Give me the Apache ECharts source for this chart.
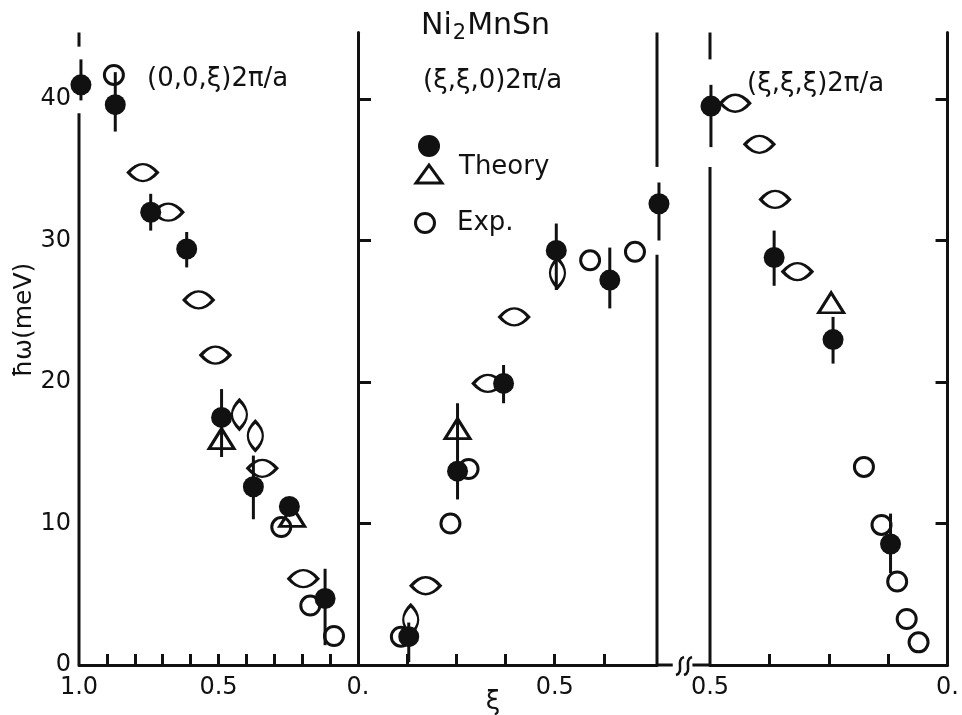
<!DOCTYPE html>
<html><head><meta charset="utf-8">
<script src="https://cdn.jsdelivr.net/npm/echarts@6/dist/echarts.min.js"></script>
<style>html,body{margin:0;padding:0;background:#fff}#c{width:962px;height:715px}</style>
</head><body><div id="c"></div>
<script>
// ---------- data ----------
const yTicks = [0, 10, 20, 30, 40];
const aTickLabels = [[1, '1.0'], [0.5, '0.5']];
const bTickLabels = [[0, '0.'], [0.5, '0.5']];
const cTickLabels = [[0.5, '0.5'], [0, '0.']];
const aTicks = [0.1, 0.2, 0.3, 0.4, 0.5, 0.6, 0.7, 0.8, 0.9];
const bTicks = [0.125, 0.25, 0.375, 0.5, 0.625];
const cTicks = [0.125, 0.25, 0.375];

// panel A : (0,0,xi)
const aTheoryDots = [[0.993,41.0],[0.87,39.6],[0.743,32.0],[0.614,29.4],[0.489,17.5],[0.375,12.6],[0.246,11.2],[0.118,4.7]];
const aTheoryErr  = [[0.993,39.9,42.8],[0.87,37.7,41.9],[0.743,30.7,33.3],[0.614,28.1,30.6],[0.489,14.7,19.5],[0.375,10.3,14.8],[0.118,1.4,6.8]];
const aTheoryTri  = [[0.489,16.0],[0.236,10.5]];
const aExpCircle  = [[0.875,41.7],[0.275,9.75],[0.171,4.2],[0.086,2.05]];
const aExpLensH   = [[0.771,34.8],[0.68,32.0],[0.571,25.8],[0.511,21.9],[0.343,13.9],[0.196,6.1]];
const aExpLensV   = [[0.425,17.7],[0.368,16.2]];

// panel B : (xi,xi,0)
const bTheoryDots = [[0.765,32.6],[0.64,27.2],[0.504,29.3],[0.37,19.9],[0.253,13.7],[0.129,2.0]];
const bTheoryErr  = [[0.765,30.0,34.1],[0.64,25.2,29.5],[0.504,26.5,31.2],[0.37,18.5,21.2],[0.253,11.7,18.5],[0.129,0.2,3.0]];
const bTheoryTri  = [[0.253,16.7]];
const bExpCircle  = [[0.704,29.2],[0.59,28.6],[0.281,13.85],[0.235,10.0],[0.109,2.0]];
const bExpLensH   = [[0.397,24.6],[0.33,19.9],[0.172,5.6]];
const bExpLensV   = [[0.507,27.7],[0.134,3.2]];

// panel C : (xi,xi,xi)
const cTheoryDots = [[0.498,39.5],[0.365,28.8],[0.241,23.0],[0.120,8.55]];
const cTheoryErr  = [[0.498,36.6,41.0],[0.365,26.8,30.7],[0.241,21.3,24.6],[0.120,6.5,10.7]];
const cTheoryTri  = [[0.245,25.6]];
const cExpCircle  = [[0.176,14.0],[0.139,9.9],[0.106,5.9],[0.086,3.25],[0.061,1.6]];
const cExpLensH   = [[0.447,39.7],[0.396,36.8],[0.363,32.9],[0.316,27.8]];
const cExpLensV   = [];

// frame pieces (x1,y1,x2,y2 in axis units) – broken frame lines as drawn
const aFrame = [[1,0,1,39.0],[1,43.7,1,44.7]];
const bFrame = [[0.76,0,0.76,29.0],[0.76,35.2,0.76,44.7],[0.76,0,0.8,0]];
const cFrame = [[0.5,0,0.5,35.2],[0.5,42.8,0.5,44.7],[0.537,0,0.5,0]];

// ---------- styling ----------
const INK = '#111111';
const F = 'DejaVu Sans';
const Y_MAX = 44.7;
const LENS_H = 'path://M0,10 Q20,-6 40,10 Q20,26 0,10 Z';
const LENS_V = 'path://M10,0 Q-6,20 10,40 Q26,20 10,0 Z';

function segItem(params, api) {
  const p1 = api.coord([api.value(0), api.value(1)]);
  const p2 = api.coord([api.value(2), api.value(3)]);
  return {type:'line', shape:{x1:p1[0],y1:p1[1],x2:p2[0],y2:p2[1]},
          style:{stroke:INK, lineWidth:3, lineCap:'butt'}};
}
function lookup(table){ return v => { const f = table.find(t => Math.abs(t[0]-v) < 1e-9); return f ? f[1] : ''; }; }

function panel(i, dots, err, tri, circ, lensH, lensV, frame) {
  const open = {color:'rgba(0,0,0,0)', borderColor:INK, borderWidth:3, opacity:1};
  const base = {xAxisIndex:i, yAxisIndex:i, clip:false, silent:true};
  return [
    Object.assign({type:'custom', name:'frame'+i, renderItem:segItem, data:frame, encode:{x:[0,2], y:[1,3]}, z:1}, base),
    Object.assign({type:'custom', name:'err'+i, renderItem:segItem, data:err.map(e=>[e[0],e[1],e[0],e[2]]), encode:{x:[0,2], y:[1,3]}, z:2}, base),
    Object.assign({type:'scatter', name:'expCircle'+i, data:circ, symbol:'circle', symbolSize:19, itemStyle:open, z:3}, base),
    Object.assign({type:'scatter', name:'expLensH'+i, data:lensH, symbol:LENS_H, symbolSize:[29,17], itemStyle:open, z:3}, base),
    Object.assign({type:'scatter', name:'expLensV'+i, data:lensV, symbol:LENS_V, symbolSize:[15,29], itemStyle:open, z:3}, base),
    Object.assign({type:'scatter', name:'theoryTri'+i, data:tri, symbol:'triangle', symbolSize:[25,20], itemStyle:open, z:3}, base),
    Object.assign({type:'scatter', name:'theoryDot'+i, data:dots, symbol:'circle', symbolSize:21, itemStyle:{color:INK, opacity:1}, z:4}, base)
  ];
}

const axLine = {show:true, lineStyle:{color:INK, width:3}};
const tickSt = {color:INK, width:3};
const lbl = {color:INK, fontFamily:F, fontSize:24};
const sMark = (x) => ({type:'bezierCurve', x:x, y:666, shape:{x1:0,y1:9,x2:8,y2:-9,cpx1:9,cpy1:6,cpx2:-1,cpy2:-6}, style:{fill:'none', stroke:INK, lineWidth:2.5}});
const sub = {fontSize:26, fontFamily:F, fontWeight:'normal', color:INK};

const option = {
  animation:false,
  backgroundColor:'#fff',
  title:[
    {text:'{a|Ni}{s|2}{a|MnSn}', left:421, top:8, padding:0,
     textStyle:{rich:{a:{fontSize:30,fontFamily:F,fontWeight:'normal',color:INK}, s:{fontSize:21,fontFamily:F,fontWeight:'normal',color:INK,padding:[15,1,0,1]}}}},
    {text:'(0,0,ξ)2π/a', left:147, top:66, padding:0, textStyle:sub},
    {text:'(ξ,ξ,0)2π/a', left:423, top:68, padding:0, textStyle:sub},
    {text:'(ξ,ξ,ξ)2π/a', left:747, top:71, padding:0, textStyle:sub}
  ],
  grid:[
    {left:79, top:32.5, width:279, height:632.5},
    {left:358, top:32.5, width:299, height:632.5},
    {left:710, top:32.5, width:245, height:632.5}
  ],
  xAxis:[
    {gridIndex:0, type:'value', min:0, max:1, interval:0.1, inverse:true,
     axisLine:axLine, axisTick:{show:true, inside:true, length:11, lineStyle:tickSt, customValues:aTicks},
     axisLabel:Object.assign({margin:11, formatter:lookup(aTickLabels), customValues:aTickLabels.map(t=>t[0])}, lbl), splitLine:{show:false}},
    {gridIndex:1, type:'value', min:0, max:0.76, interval:0.125,
     axisLine:axLine, axisTick:{show:true, inside:true, length:11, lineStyle:tickSt, customValues:bTicks},
     axisLabel:Object.assign({margin:11, formatter:lookup(bTickLabels), customValues:bTickLabels.map(t=>t[0])}, lbl), splitLine:{show:false}},
    {gridIndex:2, type:'value', min:0, max:0.5, interval:0.125, inverse:true,
     axisLine:axLine, axisTick:{show:true, inside:true, length:11, lineStyle:tickSt, customValues:cTicks},
     axisLabel:Object.assign({margin:11, formatter:lookup(cTickLabels), customValues:cTickLabels.map(t=>t[0])}, lbl), splitLine:{show:false}}
  ],
  yAxis:[
    {gridIndex:0, type:'value', min:0, max:Y_MAX, interval:10,
     axisLine:{show:false}, axisTick:{show:true, inside:true, length:13, lineStyle:tickSt, customValues:yTicks},
     axisLabel:Object.assign({margin:8, customValues:yTicks}, lbl), splitLine:{show:false}},
    {gridIndex:1, type:'value', min:0, max:Y_MAX, interval:10,
     axisLine:axLine, axisTick:{show:false}, axisLabel:{show:false}, splitLine:{show:false}},
    {gridIndex:2, type:'value', min:0, max:Y_MAX, interval:10, position:'right',
     axisLine:axLine, axisTick:{show:true, inside:true, length:12, lineStyle:tickSt, customValues:yTicks.filter(v=>v>0)},
     axisLabel:{show:false}, splitLine:{show:false}}
  ],
  graphic:[
    {type:'text', x:24, y:320, rotation:Math.PI/2, style:{text:'ħω(meV)', font:'25px "DejaVu Sans"', fill:INK, align:'center', verticalAlign:'middle'}},
    {type:'text', x:493, y:702, style:{text:'ξ', font:'26px "DejaVu Sans"', fill:INK, align:'center', verticalAlign:'middle'}},
    // legend
    {type:'circle', shape:{cx:429, cy:146, r:11}, style:{fill:INK}},
    {type:'polygon', shape:{points:[[416,183],[442,183],[429,165]]}, style:{fill:'none', stroke:INK, lineWidth:3}},
    {type:'circle', shape:{cx:425, cy:223, r:9.5}, style:{fill:'none', stroke:INK, lineWidth:3}},
    {type:'text', x:459, y:167, style:{text:'Theory', font:'26px "DejaVu Sans"', fill:INK, align:'left', verticalAlign:'middle'}},
    {type:'text', x:457, y:223, style:{text:'Exp.', font:'26px "DejaVu Sans"', fill:INK, align:'left', verticalAlign:'middle'}},
    // axis break mark
    sMark(676), sMark(684)
  ],
  series:[].concat(
    panel(0, aTheoryDots, aTheoryErr, aTheoryTri, aExpCircle, aExpLensH, aExpLensV, aFrame),
    panel(1, bTheoryDots, bTheoryErr, bTheoryTri, bExpCircle, bExpLensH, bExpLensV, bFrame),
    panel(2, cTheoryDots, cTheoryErr, cTheoryTri, cExpCircle, cExpLensH, cExpLensV, cFrame)
  )
};
echarts.init(document.getElementById('c'), null, {renderer:'canvas'}).setOption(option);
</script>
</body></html>
